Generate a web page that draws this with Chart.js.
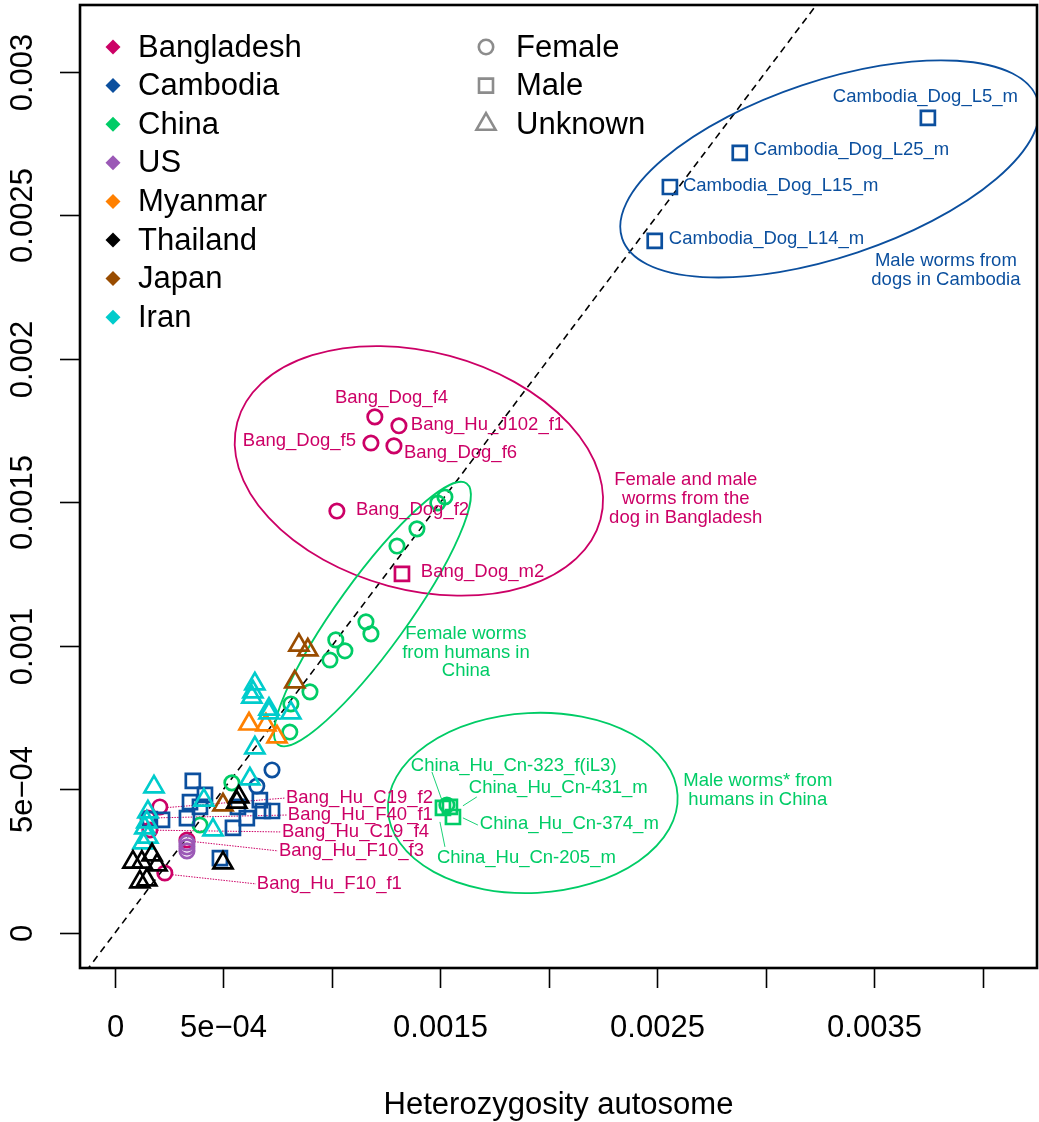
<!DOCTYPE html>
<html>
<head>
<meta charset="utf-8">
<title>Heterozygosity autosome</title>
<script src="https://cdn.jsdelivr.net/npm/chart.js@4.4.1/dist/chart.umd.min.js"></script>
<style>
html,body{margin:0;padding:0;background:#fff;}
canvas{display:block;}
</style>
</head>
<body>
<canvas id="chart" width="1039" height="1122" style="width:1039px;height:1122px"></canvas>
<script>
// ---------------- data ----------------
const countries = ['Bangladesh','Cambodia','China','US','Myanmar','Thailand','Japan','Iran'];
const countryColors = ['#CC0066','#0B4F9E','#00CC66','#9B59B6','#FF8000','#000000','#994C00','#00CCCC'];
const sexes = ['Female','Male','Unknown'];

const xTickValues = [0,0.0005,0.001,0.0015,0.002,0.0025,0.003,0.0035,0.004];
const xTickLabels = ['0','5e\u221204','','0.0015','','0.0025','','0.0035',''];
const yTickValues = [0,0.0005,0.001,0.0015,0.002,0.0025,0.003];
const yTickLabels = ['0','5e\u221204','0.001','0.0015','0.002','0.0025','0.003'];
const xRange = [-0.000161, 0.00425];
const yRange = [-0.000122, 0.003233];

// [heterozygosity autosome, heterozygosity (y)]
const bangladeshFemale = [
  [0.001198,0.001798],[0.001309,0.001767],[0.00118,0.001707],[0.001286,0.001697],[0.001023,0.00147],
  [0.000207,0.000439],[0.000152,0.0004],[0.000161,0.000359],[0.000332,0.000324],[0.00023,0.000209]
];
const bangladeshMale = [[0.001323,0.001251]];
const cambodiaFemale = [[0.000724,0.000568],[0.000654,0.000512]];
const cambodiaMale = [
  [0.003747,0.00284],[0.00288,0.002718],[0.002558,0.002599],[0.002488,0.002411],
  [0.000359,0.00053],[0.000346,0.000456],[0.000415,0.000481],[0.000392,0.000439],[0.000332,0.0004],
  [0.000567,0.000439],[0.000608,0.0004],[0.000682,0.000425],[0.000724,0.000425],[0.000668,0.000463],
  [0.000544,0.000366],[0.000161,0.000397],[0.000217,0.000394],[0.000484,0.000261]
];
const chinaFemale = [
  [0.001521,0.001519],[0.001488,0.001498],[0.001392,0.001408],[0.0013,0.001348],
  [0.001157,0.001084],[0.00118,0.001042],[0.001018,0.001021],[0.00106,0.000983],[0.000991,0.000951],
  [0.000899,0.00084],[0.000811,0.000798],[0.000806,0.0007],[0.000539,0.000523],[0.000392,0.000376],
  [0.00153,0.000446]
];
const chinaMale = [[0.001544,0.000439],[0.001558,0.000404],[0.001512,0.000436]];
const usFemale = [[0.000332,0.000314],[0.000332,0.0003],[0.000332,0.000286]];
const myanmarUnknown = [[0.000618,0.000728],[0.000696,0.000725],[0.000747,0.000683]];
const thailandUnknown = [
  [0.000083,0.000247],[0.000124,0.000247],[0.000194,0.000237],[0.000115,0.000178],[0.000147,0.000185],
  [0.000171,0.000272],[0.000498,0.000244],[0.000571,0.000474],[0.000562,0.000456]
];
const japanUnknown = [[0.000848,0.001003],[0.000889,0.000986],[0.000829,0.000875],[0.000498,0.000446]];
const iranUnknown = [
  [0.000645,0.000868],[0.000636,0.00084],[0.000631,0.000822],[0.00071,0.00078],[0.00071,0.000767],
  [0.000811,0.000767],[0.000645,0.000645],[0.00018,0.000509],[0.000622,0.000537],[0.00041,0.000463],
  [0.000452,0.000359],[0.000152,0.000422],[0.000147,0.000387],[0.000138,0.000366],[0.000152,0.000334],
  [0.000129,0.000314]
];

// point labels: text, anchor (data units), alignment, optional leader line (data units)
const pointLabels = [
  {t:'Cambodia_Dog_L5_m', x:0.003309, y:0.002913, al:'left', c:1},
  {t:'Cambodia_Dog_L25_m', x:0.002945, y:0.002728, al:'left', c:1},
  {t:'Cambodia_Dog_L15_m', x:0.002618, y:0.002603, al:'left', c:1},
  {t:'Cambodia_Dog_L14_m', x:0.002553, y:0.002418, al:'left', c:1},
  {t:'Bang_Dog_f4', x:0.001014, y:0.001864, al:'left', c:0},
  {t:'Bang_Hu_J102_f1', x:0.001364, y:0.00177, al:'left', c:0},
  {t:'Bang_Dog_f5', x:0.001111, y:0.001714, al:'right', c:0},
  {t:'Bang_Dog_f6', x:0.001332, y:0.001672, al:'left', c:0},
  {t:'Bang_Dog_f2', x:0.001111, y:0.001474, al:'left', c:0},
  {t:'Bang_Dog_m2', x:0.00141, y:0.001258, al:'left', c:0},
  {t:'China_Hu_Cn-323_f(iL3)', x:0.001364, y:0.000582, al:'left', c:2, l:[0.001461,0.000561,0.001507,0.000463]},
  {t:'China_Hu_Cn-431_m', x:0.001631, y:0.000505, al:'left', c:2, l:[0.001668,0.000474,0.001604,0.000443]},
  {t:'China_Hu_Cn-374_m', x:0.001682, y:0.00038, al:'left', c:2, l:[0.001673,0.000376,0.001604,0.000401]},
  {t:'China_Hu_Cn-205_m', x:0.001484, y:0.000261, al:'left', c:2, l:[0.001521,0.0003,0.001498,0.000387]},
  {t:'Bang_Hu_C19_f2', x:0.000788, y:0.00047, al:'left', c:0, l:[0.000241,0.000437,0.000783,0.00047], dot:true},
  {t:'Bang_Hu_F40_f1', x:0.000797, y:0.000411, al:'left', c:0, l:[0.000187,0.000401,0.000793,0.000411], dot:true},
  {t:'Bang_Hu_C19_f4', x:0.00077, y:0.000352, al:'left', c:0, l:[0.000195,0.000358,0.000765,0.000352], dot:true},
  {t:'Bang_Hu_F10_f3', x:0.000756, y:0.000286, al:'left', c:0, l:[0.000367,0.000318,0.000751,0.000286], dot:true},
  {t:'Bang_Hu_F10_f1', x:0.000654, y:0.000171, al:'left', c:0, l:[0.000265,0.000203,0.00065,0.000171], dot:true}
];
const groupNotes = [
  {lines:['Male worms from','dogs in Cambodia'], x:0.00383, y:0.002341, c:1},
  {lines:['Female and male','worms from the','dog in Bangladesh'], x:0.002631, y:0.001578, c:0},
  {lines:['Female worms','from humans in','China'], x:0.001618, y:0.001042, c:2},
  {lines:['Male worms* from','humans in China'], x:0.002963, y:0.00053, c:2}
];
// ellipses: centre (data units), semi-axes (px), rotation (deg)
const groupEllipses = [
  {x:0.003295, y:0.002662, rx:219, ry:88, rot:-18.5, c:1},
  {x:0.001401, y:0.00161, rx:188, ry:119, rot:15, c:0},
  {x:0.001187, y:0.001111, rx:161, ry:35, rot:-54.2, c:2},
  {x:0.001926, y:0.000453, rx:145, ry:90, rot:-3, c:2}
];

// ---------------- chart ----------------
const FONT = '"Liberation Sans", Arial, Helvetica, sans-serif';
const styleRadius = {circle:7.2, rect:9.9, triangle:11};
function ds(data, ci, style){
  return {
    data: data, pointStyle: style, pointRadius: styleRadius[style], pointHoverRadius: styleRadius[style],
    borderColor: countryColors[ci], backgroundColor: 'rgba(0,0,0,0)', pointBorderWidth: 2.7,
    borderWidth: 2.7, showLine: false
  };
}
const datasets = [
  ds(thailandUnknown,5,'triangle'),
  ds(iranUnknown,7,'triangle'),
  ds(myanmarUnknown,4,'triangle'),
  ds(japanUnknown,6,'triangle'),
  ds(cambodiaMale,1,'rect'),
  ds(cambodiaFemale,1,'circle'),
  ds(usFemale,3,'circle'),
  ds(chinaFemale,2,'circle'),
  ds(chinaMale,2,'rect'),
  ds(bangladeshFemale,0,'circle'),
  ds(bangladeshMale,0,'rect')
];

const decor = {
  id: 'decor',
  beforeDatasetsDraw(chart){
    const {ctx, chartArea:a, scales:{x, y}} = chart;
    ctx.save();
    ctx.beginPath(); ctx.rect(a.left, a.top, a.right-a.left, a.bottom-a.top); ctx.clip();
    // y = x reference line
    ctx.strokeStyle = '#000'; ctx.lineWidth = 1.6; ctx.setLineDash([7,5]);
    ctx.beginPath();
    ctx.moveTo(x.getPixelForValue(-0.0003), y.getPixelForValue(-0.0003));
    ctx.lineTo(x.getPixelForValue(0.0036), y.getPixelForValue(0.0036));
    ctx.stroke();
    ctx.setLineDash([]);
    // ellipses
    ctx.lineWidth = 1.8;
    groupEllipses.forEach(e => {
      ctx.strokeStyle = countryColors[e.c];
      ctx.beginPath();
      ctx.ellipse(x.getPixelForValue(e.x), y.getPixelForValue(e.y), e.rx, e.ry, e.rot*Math.PI/180, 0, Math.PI*2);
      ctx.stroke();
    });
    // leader lines
    pointLabels.forEach(p => {
      if (!p.l) return;
      ctx.strokeStyle = countryColors[p.c];
      ctx.lineWidth = p.dot ? 1 : 0.9;
      ctx.setLineDash(p.dot ? [1.5,1.2] : []);
      ctx.beginPath();
      ctx.moveTo(x.getPixelForValue(p.l[0]), y.getPixelForValue(p.l[1]));
      ctx.lineTo(x.getPixelForValue(p.l[2]), y.getPixelForValue(p.l[3]));
      ctx.stroke();
    });
    ctx.restore();
  },
  afterDatasetsDraw(chart){
    const {ctx, chartArea:a, scales:{x, y}} = chart;
    ctx.save();
    // labels
    ctx.font = '18.5px ' + FONT;
    ctx.textBaseline = 'middle';
    pointLabels.forEach(p => {
      ctx.fillStyle = countryColors[p.c];
      ctx.textAlign = p.al;
      ctx.fillText(p.t, x.getPixelForValue(p.x), y.getPixelForValue(p.y));
    });
    ctx.textAlign = 'center';
    groupNotes.forEach(g => {
      ctx.fillStyle = countryColors[g.c];
      const px = x.getPixelForValue(g.x), py = y.getPixelForValue(g.y);
      g.lines.forEach((ln, i) => ctx.fillText(ln, px, py + i*18.7));
    });
    // box
    ctx.strokeStyle = '#000'; ctx.lineWidth = 2.6;
    ctx.strokeRect(a.left, a.top, a.right-a.left, a.bottom-a.top);
    // x axis
    ctx.lineWidth = 1.6;
    ctx.font = '31px ' + FONT;
    ctx.fillStyle = '#000';
    xTickValues.forEach((v, i) => {
      const px = Math.round(x.getPixelForValue(v)) + 0.5;
      ctx.beginPath(); ctx.moveTo(px, a.bottom); ctx.lineTo(px, a.bottom + 20); ctx.stroke();
      if (xTickLabels[i]) { ctx.textAlign='center'; ctx.textBaseline='middle'; ctx.fillText(xTickLabels[i], px, 1028); }
    });
    // y axis
    yTickValues.forEach((v, i) => {
      const py = Math.round(y.getPixelForValue(v)) + 0.5;
      ctx.beginPath(); ctx.moveTo(a.left - 20, py); ctx.lineTo(a.left, py); ctx.stroke();
      ctx.save();
      ctx.translate(23, py); ctx.rotate(-Math.PI/2);
      ctx.textAlign='center'; ctx.textBaseline='middle';
      ctx.fillText(yTickLabels[i], 0, 0);
      ctx.restore();
    });
    ctx.textAlign='center'; ctx.textBaseline='middle';
    ctx.fillText('Heterozygosity autosome', (a.left + a.right)/2, 1105);
    // legend: countries
    ctx.textAlign='left';
    countries.forEach((name, i) => {
      const cy = 47 + i*38.6;
      ctx.fillStyle = countryColors[i];
      ctx.beginPath();
      ctx.moveTo(113, cy-7.5); ctx.lineTo(120.5, cy); ctx.lineTo(113, cy+7.5); ctx.lineTo(105.5, cy); ctx.closePath();
      ctx.fill();
      ctx.fillStyle = '#000';
      ctx.fillText(name, 138, cy + 1);
    });
    // legend: sexes
    const shapeStyles = ['circle','rect','triangle'];
    sexes.forEach((name, i) => {
      const cy = 47 + i*38.6, cx = 486;
      ctx.strokeStyle = '#8C8C8C'; ctx.lineWidth = 2.6;
      ctx.fillStyle = 'rgba(0,0,0,0)';
      Chart.helpers.drawPoint(ctx, {pointStyle: shapeStyles[i], radius: styleRadius[shapeStyles[i]], borderWidth: 2.6}, cx, cy);
      ctx.fillStyle = '#000';
      ctx.fillText(name, 516, cy + 1);
    });
    ctx.restore();
  }
};

new Chart(document.getElementById('chart'), {
  type: 'scatter',
  data: { datasets },
  options: {
    responsive: false,
    animation: false,
    events: [],
    layout: { autoPadding: false, padding: { left: 80, top: 5, right: 2, bottom: 154 } },
    scales: {
      x: { type: 'linear', min: xRange[0], max: xRange[1], display: false },
      y: { type: 'linear', min: yRange[0], max: yRange[1], display: false }
    },
    plugins: { legend: { display: false }, tooltip: { enabled: false } }
  },
  plugins: [decor]
});
</script>
</body>
</html>
